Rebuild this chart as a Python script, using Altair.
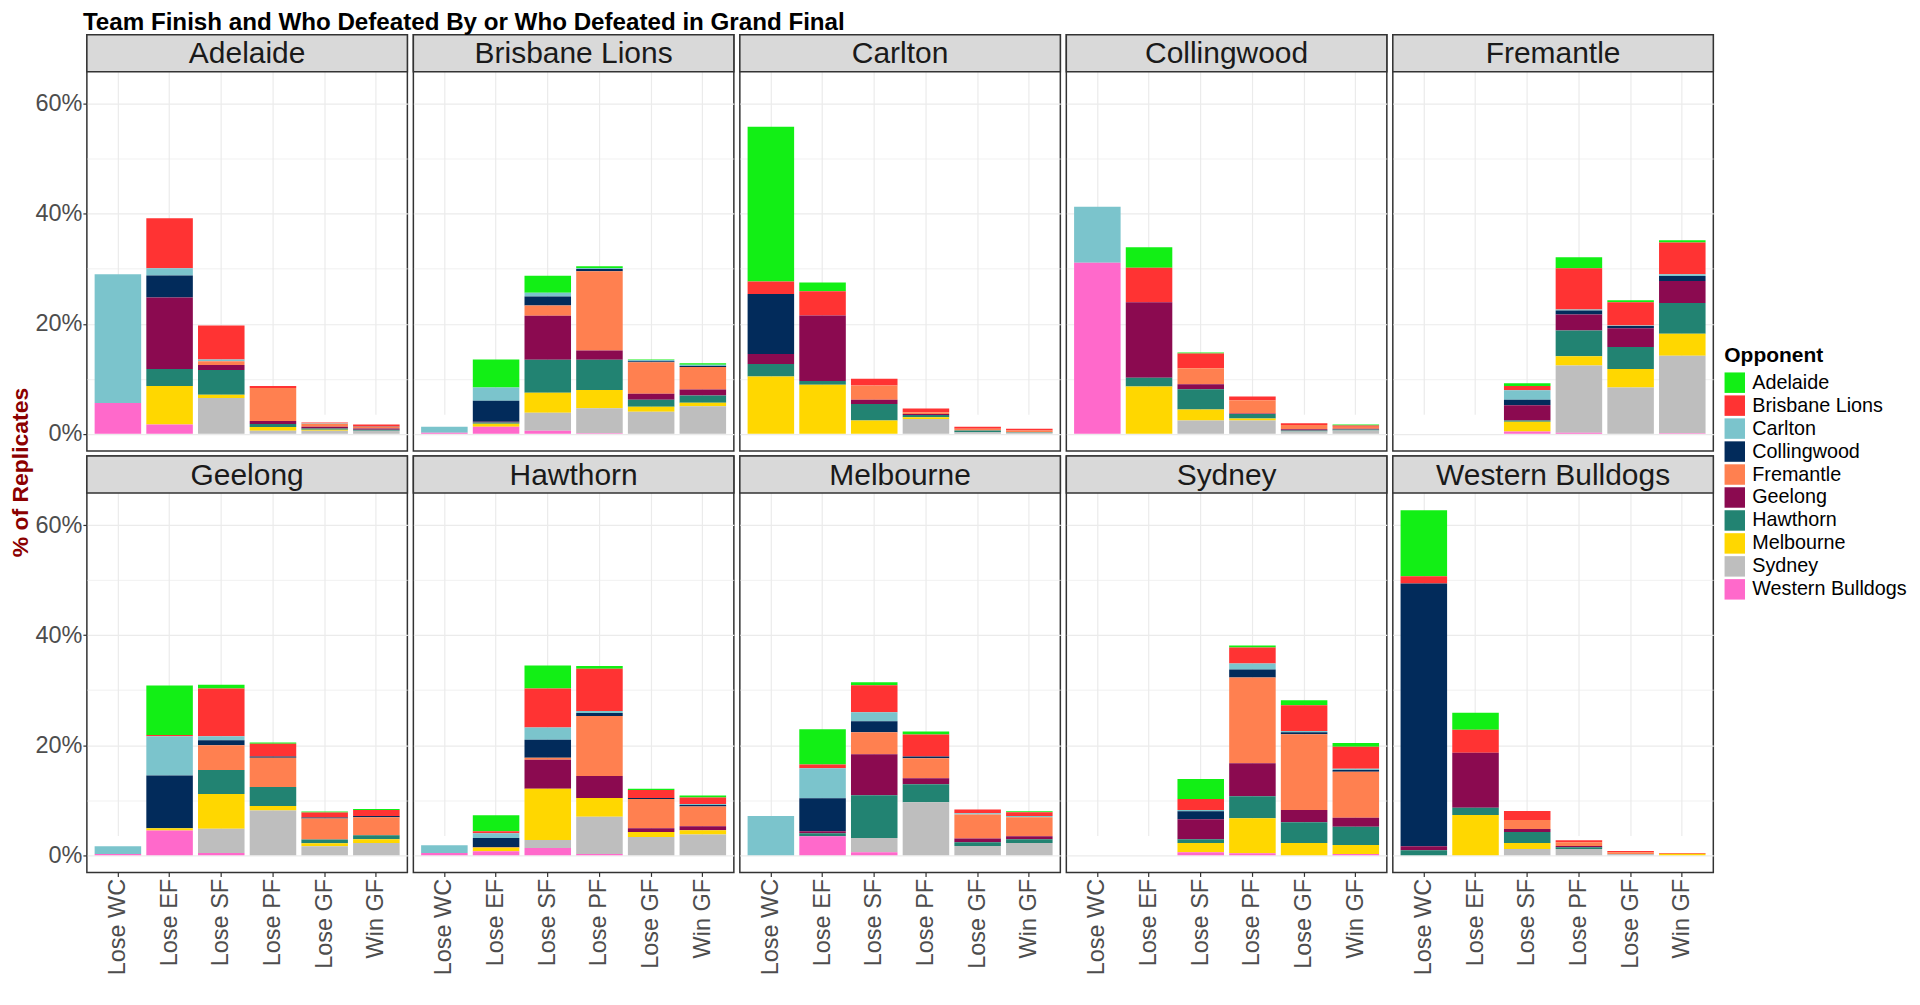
import altair as alt
import pandas as pd

FONT = "Liberation Sans"

FINISHES = ["Lose WC", "Lose EF", "Lose SF", "Lose PF", "Lose GF", "Win GF"]
TEAMS = ["Adelaide", "Brisbane Lions", "Carlton", "Collingwood", "Fremantle",
         "Geelong", "Hawthorn", "Melbourne", "Sydney", "Western Bulldogs"]
OPPONENTS = TEAMS
COLORS = ["#12EF15", "#FF3333", "#7BC4CC", "#022B5B", "#FF8050",
          "#8B0A50", "#228372", "#FFD700", "#BEBEBE", "#FF69CB"]

# % of replicates by finish: [Lose WC, Lose EF, Lose SF, Lose PF, Lose GF, Win GF]
ADELAIDE = {
    "Brisbane Lions":   [0, 9.1, 6.2, 0.35, 0.15, 0.35],
    "Carlton":          [23.4, 1.3, 0.3, 0, 0.05, 0],
    "Collingwood":      [0, 4.0, 0, 0, 0, 0.05],
    "Fremantle":        [0, 0, 0.7, 6.0, 0.55, 0.35],
    "Geelong":          [0, 13.0, 0.9, 0.55, 0.35, 0.2],
    "Hawthorn":         [0, 3.1, 4.5, 0.55, 0.2, 0.2],
    "Melbourne":        [0, 7.0, 0.6, 0.7, 0.2, 0],
    "Sydney":           [0, 0, 6.5, 0.55, 0.55, 0.55],
    "Western Bulldogs": [5.6, 1.7, 0, 0, 0, 0],
}
BRISBANE = {
    "Adelaide":         [0, 5.1, 3.1, 0.3, 0.1, 0.3],
    "Carlton":          [1.1, 2.4, 0.7, 0.2, 0.2, 0.2],
    "Collingwood":      [0, 3.8, 1.6, 0.4, 0.2, 0.2],
    "Fremantle":        [0, 0, 1.9, 14.4, 5.7, 4.1],
    "Geelong":          [0, 0.15, 8.0, 1.7, 1.1, 1.1],
    "Hawthorn":         [0, 0.2, 6.0, 5.5, 1.3, 1.3],
    "Melbourne":        [0, 0.55, 3.6, 3.3, 0.9, 0.65],
    "Sydney":           [0, 0, 3.3, 4.55, 4.0, 5.0],
    "Western Bulldogs": [0.2, 1.3, 0.55, 0.1, 0, 0],
}
CARLTON = {
    "Adelaide":         [28.1, 1.6, 0, 0, 0, 0],
    "Brisbane Lions":   [2.3, 4.4, 1.2, 0.7, 0.4, 0.3],
    "Collingwood":      [10.9, 0, 0, 0, 0, 0],
    "Fremantle":        [0, 0, 2.6, 0.3, 0.3, 0.3],
    "Geelong":          [1.8, 11.9, 0.8, 0.2, 0, 0],
    "Hawthorn":         [2.3, 0.7, 3.0, 0.4, 0.3, 0.1],
    "Melbourne":        [10.4, 8.9, 2.4, 0.3, 0, 0],
    "Sydney":           [0, 0, 0, 2.7, 0.3, 0.2],
}
COLLINGWOOD = {
    "Adelaide":         [0, 3.7, 0.2, 0, 0, 0.2],
    "Brisbane Lions":   [0, 6.3, 2.7, 0.7, 0.3, 0.2],
    "Carlton":          [10.2, 0, 0, 0, 0, 0],
    "Fremantle":        [0, 0, 2.9, 2.4, 0.75, 0.4],
    "Geelong":          [0, 13.7, 0.9, 0.1, 0.25, 0.1],
    "Hawthorn":         [0, 1.6, 3.7, 0.8, 0.2, 0.2],
    "Melbourne":        [0, 8.6, 2.0, 0.4, 0, 0],
    "Sydney":           [0, 0, 2.4, 2.4, 0.4, 0.6],
    "Western Bulldogs": [31.1, 0, 0, 0, 0, 0],
}
FREMANTLE = {
    "Adelaide":         [0, 0, 0.5, 2.0, 0.4, 0.4],
    "Brisbane Lions":   [0, 0, 0.8, 7.5, 4.2, 5.8],
    "Carlton":          [0, 0, 1.7, 0.2, 0.1, 0.3],
    "Collingwood":      [0, 0, 1.0, 0.7, 0.4, 0.9],
    "Geelong":          [0, 0, 2.8, 2.9, 3.4, 4.0],
    "Hawthorn":         [0, 0, 0.2, 4.7, 4.0, 5.6],
    "Melbourne":        [0, 0, 1.8, 1.7, 3.4, 4.0],
    "Sydney":           [0, 0, 0, 12.2, 8.4, 14.1],
    "Western Bulldogs": [0, 0, 0.4, 0.2, 0, 0.1],
}
GEELONG = {
    "Adelaide":         [0, 9.0, 0.7, 0.25, 0.2, 0.2],
    "Brisbane Lions":   [0, 0.25, 8.7, 2.3, 0.9, 1.1],
    "Carlton":          [1.4, 7.1, 0.7, 0, 0, 0],
    "Collingwood":      [0, 9.6, 0.9, 0.25, 0.2, 0.2],
    "Fremantle":        [0, 0, 4.5, 5.3, 3.8, 3.3],
    "Hawthorn":         [0, 0, 4.4, 3.45, 0.7, 0.7],
    "Melbourne":        [0, 0.4, 6.3, 0.85, 0.55, 0.7],
    "Sydney":           [0, 0, 4.4, 8.1, 1.6, 2.2],
    "Western Bulldogs": [0.2, 4.5, 0.4, 0, 0, 0],
}
HAWTHORN = {
    "Adelaide":         [0, 2.9, 4.2, 0.5, 0.2, 0.35],
    "Brisbane Lions":   [0, 0.35, 7.1, 7.7, 1.45, 1.2],
    "Carlton":          [1.4, 0.9, 2.2, 0.35, 0, 0.2],
    "Collingwood":      [0, 1.6, 3.3, 0.55, 0.2, 0.25],
    "Fremantle":        [0, 0, 0.35, 10.9, 5.3, 3.6],
    "Geelong":          [0, 0.1, 5.3, 4.0, 0.7, 0.7],
    "Melbourne":        [0, 0.7, 9.3, 3.4, 0.9, 0.8],
    "Sydney":           [0, 0, 1.45, 6.8, 3.3, 3.75],
    "Western Bulldogs": [0.4, 0.7, 1.3, 0.2, 0, 0],
}
MELBOURNE = {
    "Adelaide":         [0, 6.4, 0.55, 0.55, 0, 0.2],
    "Brisbane Lions":   [0, 0.7, 4.9, 4.0, 0.7, 0.7],
    "Carlton":          [7.1, 5.45, 1.65, 0, 0.2, 0.2],
    "Collingwood":      [0, 6.0, 2.0, 0.35, 0, 0],
    "Fremantle":        [0, 0, 4.0, 3.6, 4.35, 3.45],
    "Geelong":          [0, 0.35, 7.45, 1.1, 0.7, 0.55],
    "Hawthorn":         [0, 0.55, 7.8, 3.3, 0.7, 0.7],
    "Sydney":           [0, 0, 2.55, 9.6, 1.65, 2.2],
    "Western Bulldogs": [0, 3.45, 0.55, 0, 0, 0],
}
SYDNEY = {
    "Adelaide":         [0, 0, 3.65, 0.35, 0.9, 0.7],
    "Brisbane Lions":   [0, 0, 2.0, 2.9, 4.7, 4.0],
    "Carlton":          [0, 0, 0.2, 1.1, 0.2, 0.2],
    "Collingwood":      [0, 0, 1.45, 1.45, 0.35, 0.35],
    "Fremantle":        [0, 0, 0, 15.6, 13.8, 8.35],
    "Geelong":          [0, 0, 3.65, 6.0, 2.2, 1.65],
    "Hawthorn":         [0, 0, 0.7, 4.0, 3.8, 3.3],
    "Melbourne":        [0, 0, 1.65, 6.35, 2.2, 1.65],
    "Western Bulldogs": [0, 0, 0.55, 0.35, 0, 0.2],
}
WESTERN_BULLDOGS = {
    "Adelaide":         [12.0, 3.1, 0, 0, 0, 0],
    "Brisbane Lions":   [1.3, 4.2, 1.65, 0.35, 0.2, 0],
    "Collingwood":      [47.8, 0, 0, 0, 0, 0],
    "Fremantle":        [0, 0, 1.65, 0.7, 0.35, 0.2],
    "Geelong":          [0.7, 10.0, 0.55, 0.2, 0, 0],
    "Hawthorn":         [0.9, 1.3, 2.0, 0.35, 0, 0],
    "Melbourne":        [0, 7.3, 1.1, 0, 0, 0.2],
    "Sydney":           [0, 0, 1.1, 1.1, 0.2, 0],
}
TABLES = [ADELAIDE, BRISBANE, CARLTON, COLLINGWOOD, FREMANTLE,
          GEELONG, HAWTHORN, MELBOURNE, SYDNEY, WESTERN_BULLDOGS]

rows = []
for team, table in zip(TEAMS, TABLES):
    for opp, vals in table.items():
        for fin, v in zip(FINISHES, vals):
            if v > 0:
                rows.append({"team": team, "opponent": opp,
                             "oi": OPPONENTS.index(opp), "finish": fin, "value": v})
df = pd.DataFrame(rows)

W, H, STRIP = 321, 417, 37
YMAX = 62.7
YDOM = [-0.05 * YMAX, 1.05 * YMAX]
MAJOR = "datum.value % 20 === 0"

LEGEND = alt.Legend(title="Opponent", orient="none", legendX=1717, legendY=311,
                    titleFontSize=21, titleFontWeight="bold", titleFont=FONT,
                    titleColor="black", labelFontSize=19.8, labelFont=FONT,
                    labelColor="black", symbolType="square", symbolSize=420,
                    symbolStrokeWidth=0, symbolOpacity=1, rowPadding=2,
                    labelOffset=7, titlePadding=6)


def panel(team, show_y, show_x):
    base = alt.Chart(df).transform_filter(alt.datum.team == team)
    if show_x:
        xaxis = alt.Axis(labelAngle=270, labelFontSize=23.5, labelColor="#4D4D4D",
                         labelFont=FONT, tickColor="#333333", tickSize=4, tickWidth=1.2,
                         domain=False, grid=True, gridColor="#EBEBEB", gridWidth=1.2,
                         labelPadding=2, bandPosition=0.5)
    else:
        xaxis = alt.Axis(labels=False, ticks=False, domain=False, grid=True,
                         gridColor="#EBEBEB", gridWidth=1.2, bandPosition=0.5)
    if show_y:
        yaxis = alt.Axis(values=[0, 10, 20, 30, 40, 50, 60],
                         labelExpr=MAJOR + " ? datum.value + '%' : ''",
                         labelFontSize=23.5, labelColor="#4D4D4D", labelFont=FONT,
                         tickColor="#333333", tickSize=4, tickWidth=1.2,
                         tickOpacity={"condition": {"test": MAJOR, "value": 1}, "value": 0},
                         gridWidth={"condition": {"test": MAJOR, "value": 1.2}, "value": 0.7},
                         domain=False, grid=True, gridColor="#EBEBEB", labelPadding=1)
    else:
        yaxis = alt.Axis(values=[0, 10, 20, 30, 40, 50, 60], labels=False, ticks=False,
                         gridWidth={"condition": {"test": MAJOR, "value": 1.2}, "value": 0.7},
                         domain=False, grid=True, gridColor="#EBEBEB")
    bars = base.mark_bar().encode(
        x=alt.X("finish:N", sort=FINISHES, title=None,
                scale=alt.Scale(domain=FINISHES, paddingInner=0.1, paddingOuter=0.15),
                axis=xaxis),
        y=alt.Y("value:Q", stack="zero", title=None,
                scale=alt.Scale(domain=YDOM, range=[H, STRIP], nice=False, zero=False),
                axis=yaxis),
        color=alt.Color("opponent:N", scale=alt.Scale(domain=OPPONENTS, range=COLORS),
                        legend=LEGEND),
        order=alt.Order("oi:Q", sort="descending"),
    )
    agg = base.transform_aggregate(n="count()", groupby=["team"])
    strip_bg = agg.mark_rect(fill="#D9D9D9", stroke="#333333", strokeWidth=1.5).encode(
        x=alt.value(0), x2=alt.value(W), y=alt.value(0), y2=alt.value(STRIP))
    strip_txt = agg.mark_text(font=FONT, fontSize=30, color="#1A1A1A",
                              align="center", baseline="middle").encode(
        x=alt.value(W / 2), y=alt.value(STRIP / 2 + 1), text="team:N")
    return alt.layer(strip_bg, bars, strip_txt).properties(width=W, height=H)


top = alt.hconcat(*[panel(t, i == 0, False) for i, t in enumerate(TEAMS[:5])], spacing=2)
bottom = alt.hconcat(*[panel(t, i == 0, True) for i, t in enumerate(TEAMS[5:])], spacing=2)
grid = alt.vconcat(top, bottom, spacing=2)

ytitle = alt.Chart(pd.DataFrame({"t": ["% of Replicates"]})).mark_text(
    angle=270, font=FONT, fontSize=23, fontWeight="bold", color="#8B0000",
    align="center", baseline="middle"
).encode(text="t:N", x=alt.value(11.5), y=alt.value(438.5)).properties(
    width=16, height=2 * H + 2, view=alt.ViewBackground(strokeOpacity=0)
)

chart = alt.hconcat(ytitle, grid, spacing=0).properties(
    title=alt.TitleParams("Team Finish and Who Defeated By or Who Defeated in Grand Final",
                          anchor="start", fontSize=24.2, fontWeight="bold", font=FONT,
                          color="black", dx=73, offset=-2),
    padding={"left": 2, "top": 2, "right": 5, "bottom": 5},
).configure_view(stroke="#333333", strokeWidth=1.5)

chart.save("out.html", embed_options={"renderer": "svg", "actions": False})
